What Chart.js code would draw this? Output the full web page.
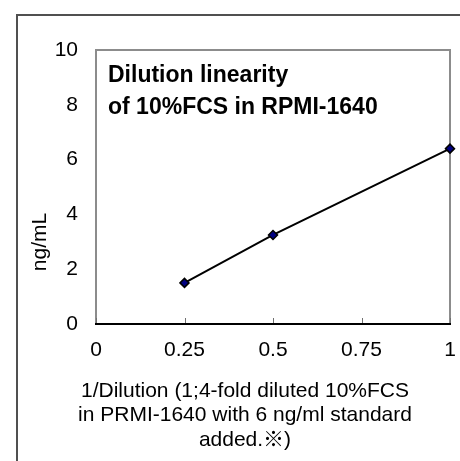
<!DOCTYPE html>
<html>
<head>
<meta charset="utf-8">
<title>Dilution linearity</title>
<script src="https://cdn.jsdelivr.net/npm/chart.js@4/dist/chart.umd.min.js"></script>
<style>
    body { margin: 0; background: #fff; }
    .wrap { position: relative; width: 460px; height: 461px; overflow: hidden; }
    .frame {
        position: absolute; left: 16px; top: 14px; right: -10px; bottom: -10px;
        border: 2px solid #505050; pointer-events: none;
    }
</style>
</head>
<body>
<div class="wrap">
    <canvas id="dilutionChart"></canvas>
    <div class="frame"></div>
</div>
<script>
const dilution = [0.25, 0.5, 1];
const concentration = [1.5, 3.25, 6.4];
const xTicks = [0, 0.25, 0.5, 0.75, 1];
const yTicks = [0, 2, 4, 6, 8, 10];

const titleLines = ['Dilution linearity', 'of 10%FCS in RPMI-1640'];
const xCaption = [
    '1/Dilution (1;4-fold diluted 10%FCS',
    'in PRMI-1640 with 6 ng/ml standard',
    'added.\u203B)'
];
const yCaption = 'ng/mL';

const fontFamily = '"Liberation Sans", Arial, "Noto Sans CJK JP", sans-serif';

// gray box round the plot, inward ticks and the loose texts
const plotFrame = {
    id: 'plotFrame',
    beforeDatasetsDraw(chart) {
        const {ctx, chartArea: {left, top, right, bottom}, scales: {x}} = chart;
        ctx.save();
        ctx.strokeStyle = '#8c8c8c';
        ctx.lineWidth = 2;
        ctx.beginPath();
        ctx.moveTo(left, bottom - 1);
        ctx.lineTo(left, top);
        ctx.lineTo(right, top);
        ctx.lineTo(right, bottom - 1);
        ctx.stroke();

        ctx.strokeStyle = '#707070';
        ctx.lineWidth = 1;
        x.ticks.forEach(t => {
            const px = Math.round(x.getPixelForValue(t.value)) + 0.5;
            ctx.beginPath();
            ctx.moveTo(px, bottom - 1);
            ctx.lineTo(px, bottom - 6);
            ctx.stroke();
        });
        ctx.restore();
    },
    afterDraw(chart) {
        const {ctx, chartArea: {left, top}} = chart;
        ctx.save();
        ctx.fillStyle = '#000';
        ctx.textBaseline = 'middle';

        ctx.font = 'bold 23px ' + fontFamily;
        ctx.textAlign = 'left';
        titleLines.forEach((line, i) => ctx.fillText(line, left + 12, top + 26 + i * 32));

        ctx.font = '21px ' + fontFamily;
        ctx.textAlign = 'center';
        xCaption.forEach((line, i) => ctx.fillText(line, 245, 391 + i * 24.5));

        ctx.translate(40, 242);
        ctx.rotate(-Math.PI / 2);
        ctx.fillText(yCaption, 0, 0);
        ctx.restore();
    }
};

const ctx = document.getElementById('dilutionChart').getContext('2d');
const dilutionChart = new Chart(ctx, {
    type: 'scatter',
    data: {
        datasets: [{
            label: 'ng/mL',
            data: dilution.map((d, i) => ({x: d, y: concentration[i]})),
            showLine: true,
            borderColor: '#000',
            borderWidth: 2,
            pointStyle: 'rectRot',
            pointRadius: 4.5,
            pointHoverRadius: 4.5,
            pointBackgroundColor: '#000080',
            pointBorderColor: '#000',
            pointBorderWidth: 1.5,
            clip: false
        }]
    },
    options: {
        responsive: true,
        maintainAspectRatio: false,
        animation: false,
        layout: {
            padding: {top: 50, right: 10, left: 0, bottom: 0}
        },
        plugins: {
            legend: {display: false},
            tooltip: {enabled: false}
        },
        scales: {
            x: {
                type: 'linear',
                min: 0,
                max: 1,
                afterBuildTicks: scale => { scale.ticks = xTicks.map(v => ({value: v})); },
                afterFit: scale => {
                    scale.height = 137;
                    scale.paddingLeft = 0;
                    scale.paddingRight = 0;
                },
                grid: {display: false, drawTicks: false},
                border: {display: true, color: '#000', width: 2},
                ticks: {
                    color: '#000',
                    padding: 14,
                    maxRotation: 0,
                    callback: v => String(v),
                    font: {family: fontFamily, size: 21}
                }
            },
            y: {
                min: 0,
                max: 10,
                afterBuildTicks: scale => { scale.ticks = yTicks.map(v => ({value: v})); },
                afterFit: scale => {
                    scale.width = 96;
                    scale.paddingTop = 0;
                    scale.paddingBottom = 0;
                },
                grid: {display: false, drawTicks: false},
                border: {display: false},
                ticks: {
                    color: '#000',
                    padding: 18,
                    callback: v => String(v),
                    font: {family: fontFamily, size: 21}
                }
            }
        }
    },
    plugins: [plotFrame]
});
</script>
</body>
</html>
